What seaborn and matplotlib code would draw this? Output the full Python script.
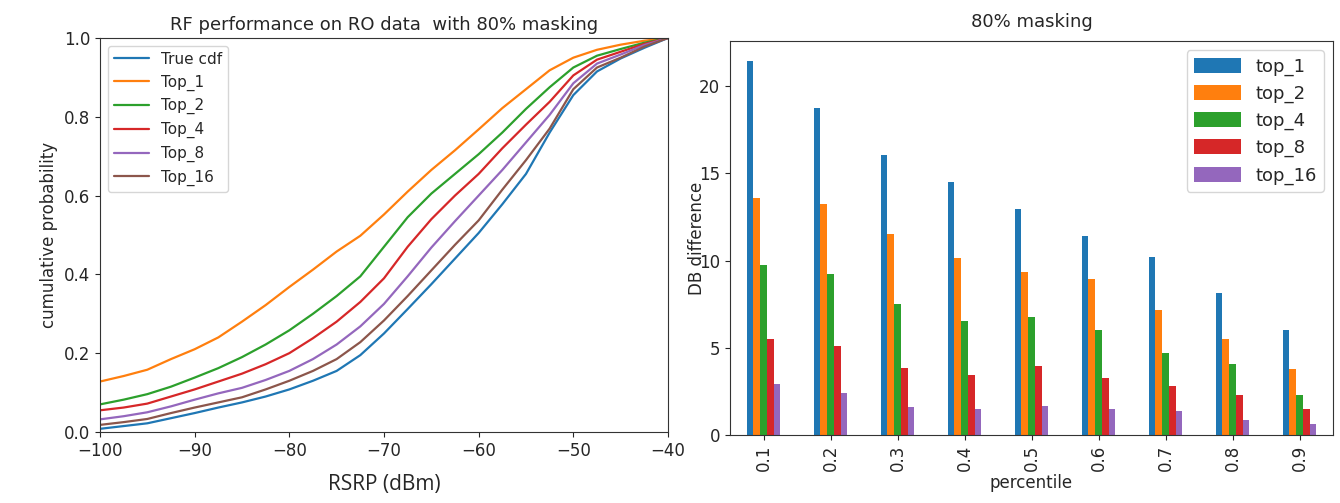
import numpy as np
import pandas as pd
import matplotlib
matplotlib.use("Agg")
import matplotlib.pyplot as plt
import seaborn as sns

# CDF curves (RSRP in dBm vs cumulative probability)
rsrp = [-100, -97.5, -95, -92.5, -90, -87.5, -85, -82.5, -80, -77.5, -75, -72.5, -70,
        -67.5, -65, -62.5, -60, -57.5, -55, -52.5, -50, -47.5, -45, -42.5, -40]
true_cdf = [0.008, 0.015, 0.022, 0.035, 0.048, 0.062, 0.075, 0.090, 0.108, 0.130, 0.155, 0.195, 0.250,
            0.312, 0.375, 0.440, 0.505, 0.578, 0.655, 0.760, 0.855, 0.915, 0.948, 0.975, 1.0]
top_1 = [0.128, 0.142, 0.158, 0.185, 0.210, 0.240, 0.280, 0.322, 0.368, 0.412, 0.458, 0.498, 0.552,
         0.610, 0.665, 0.715, 0.768, 0.822, 0.870, 0.918, 0.950, 0.970, 0.983, 0.993, 1.0]
top_2 = [0.070, 0.082, 0.096, 0.115, 0.138, 0.162, 0.190, 0.222, 0.258, 0.300, 0.345, 0.395, 0.470,
         0.545, 0.605, 0.655, 0.705, 0.760, 0.820, 0.875, 0.925, 0.955, 0.972, 0.988, 1.0]
top_4 = [0.055, 0.062, 0.072, 0.090, 0.108, 0.128, 0.148, 0.172, 0.200, 0.238, 0.280, 0.330, 0.390,
         0.470, 0.540, 0.600, 0.655, 0.720, 0.780, 0.838, 0.905, 0.945, 0.965, 0.985, 1.0]
top_8 = [0.032, 0.040, 0.050, 0.065, 0.082, 0.098, 0.112, 0.132, 0.155, 0.185, 0.222, 0.268, 0.325,
         0.395, 0.468, 0.535, 0.600, 0.665, 0.735, 0.805, 0.885, 0.935, 0.958, 0.982, 1.0]
top_16 = [0.018, 0.025, 0.033, 0.048, 0.062, 0.075, 0.088, 0.108, 0.130, 0.155, 0.185, 0.228, 0.283,
          0.345, 0.410, 0.475, 0.537, 0.615, 0.690, 0.770, 0.870, 0.925, 0.950, 0.978, 1.0]
cdf_labels = ["True cdf", "Top_1", "Top_2", "Top_4", "Top_8", "Top_16"]

# dB difference per percentile (right panel)
percentiles = ["0.1", "0.2", "0.3", "0.4", "0.5", "0.6", "0.7", "0.8", "0.9"]
diff_top_1 = [21.43, 18.76, 16.05, 14.52, 12.95, 11.40, 10.18, 8.12, 6.02]
diff_top_2 = [13.56, 13.24, 11.52, 10.16, 9.36, 8.92, 7.16, 5.48, 3.76]
diff_top_4 = [9.74, 9.23, 7.49, 6.55, 6.74, 6.02, 4.68, 4.07, 2.29]
diff_top_8 = [5.52, 5.10, 3.86, 3.44, 3.97, 3.25, 2.83, 2.29, 1.47]
diff_top_16 = [2.92, 2.39, 1.59, 1.47, 1.66, 1.47, 1.38, 0.86, 0.63]
bar_labels = ["top_1", "top_2", "top_4", "top_8", "top_16"]

sns.set_style("ticks")
plt.rcParams['font.family'] = ['DejaVu Sans']

colors = sns.color_palette("tab10")

# long-form tables
cdf_df = pd.DataFrame({
    'rsrp': rsrp * 6,
    'prob': true_cdf + top_1 + top_2 + top_4 + top_8 + top_16,
    'model': np.repeat(cdf_labels, len(rsrp)),
})
bar_df = pd.DataFrame({
    'percentile': percentiles * 5,
    'diff': diff_top_1 + diff_top_2 + diff_top_4 + diff_top_8 + diff_top_16,
    'model': np.repeat(bar_labels, len(percentiles)),
})

fig = plt.figure(figsize=(13.4, 5.03), dpi=100)
ax1 = fig.add_axes([0.0746, 0.1412, 0.4239, 0.7833])
ax2 = fig.add_axes([0.5448, 0.1352, 0.4500, 0.7833])

# left: cdf curves
sns.lineplot(data=cdf_df, x='rsrp', y='prob', hue='model', hue_order=cdf_labels,
             palette=colors[:6], linewidth=1.6, ax=ax1)
ax1.set_xlim(-100, -40)
ax1.set_ylim(0, 1.0)
ax1.set_title('RF performance on RO data  with 80% masking', fontsize=13)
ax1.set_xlabel('RSRP (dBm)', fontsize=15, family='Open Sans', labelpad=10)
ax1.set_ylabel('cumulative probability', fontsize=12)
ax1.tick_params(labelsize=12)
ax1.legend(loc='upper left', fontsize=11, title=None, handlelength=2.3)

# right: grouped bars
sns.barplot(data=bar_df, x='percentile', y='diff', hue='model', hue_order=bar_labels,
            palette=colors[:5], width=0.5, gap=0, saturation=1,
            linewidth=0, edgecolor='none', ax=ax2)
ax2.set_ylim(0, 22.58)
ax2.set_title('80% masking', fontsize=13, pad=10)
ax2.set_xlabel('percentile', fontsize=12, labelpad=2)
ax2.set_ylabel('DB difference', fontsize=12)
ax2.yaxis.set_label_coords(-0.04, 0.5)
ax2.set_yticks([0, 5, 10, 15, 20])
ax2.tick_params(labelsize=12)
ax2.tick_params(axis='x', labelrotation=90)
ax2.legend(loc='upper right', fontsize=13, title=None, handlelength=2.6, handleheight=0.9)

for ax in (ax1, ax2):
    for s in ax.spines.values():
        s.set_visible(True)
        s.set_color('#333333')

fig.savefig('out.png', dpi=100)
